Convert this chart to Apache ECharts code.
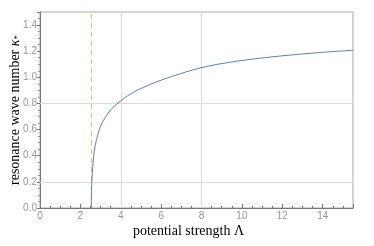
<!DOCTYPE html>
<html>
<head>
<meta charset="utf-8">
<script src="https://cdn.jsdelivr.net/npm/echarts@6/dist/echarts.min.js"></script>
<style>html,body{margin:0;padding:0;background:#fff}#c{width:374px;height:246px}</style>
</head>
<body>
<div id="c"></div>
<script>
var lambdaVals = [2.54, 2.542, 2.545, 2.55, 2.56, 2.58, 2.6, 2.62, 2.66, 2.7, 2.75, 2.8, 2.87, 2.95, 3.03, 3.1, 3.2, 3.3, 3.42, 3.55, 3.67, 3.8, 4.0, 4.17, 4.35, 4.55, 4.8, 5.05, 5.3, 5.6, 5.94, 6.5, 7.2, 7.92, 8.8, 9.8, 10.8, 11.88, 13.0, 14.2, 15.5];
var kappaVals  = [0.0, 0.06, 0.1, 0.135, 0.17, 0.24, 0.29, 0.33, 0.4, 0.45, 0.49, 0.525, 0.565, 0.605, 0.635, 0.66, 0.685, 0.71, 0.735, 0.76, 0.778, 0.795, 0.82, 0.84, 0.86, 0.878, 0.9, 0.918, 0.935, 0.955, 0.975, 1.005, 1.04, 1.072, 1.10, 1.125, 1.145, 1.163, 1.179, 1.194, 1.207];
var thresholdLambda = 2.54;
var xGridVals = [4, 8];
var yGridVals = [0.2, 0.8];
var xRange = [0, 15.5];
var yRange = [0, 1.5];

var pts = lambdaVals.map(function (l, i) { return [l, kappaVals[i]]; });
var gridLines = xGridVals.map(function (v) { return { xAxis: v }; })
  .concat(yGridVals.map(function (v) { return { yAxis: v }; }));

var chart = echarts.init(document.getElementById('c'));
chart.setOption({
  animation: false,
  grid: { left: 40, top: 12, right: 21, bottom: 38, show: true, borderColor: '#a8a8a8', borderWidth: 1,
    outerBoundsMode: 'none', containLabel: false },
  xAxis: {
    type: 'value', min: xRange[0], max: xRange[1], interval: 2,
    name: 'potential strength Λ', nameLocation: 'middle', nameGap: 16, nameMoveOverlap: false,
    nameTextStyle: { fontFamily: 'Liberation Serif', fontSize: 14, color: '#000', padding: [0, 16, 0, 0] },
    axisLine: { show: true, lineStyle: { color: '#777', width: 1 } },
    axisTick: { show: true, inside: true, length: 4, lineStyle: { color: '#777' } },
    minorTick: { show: true, splitNumber: 4, length: 2, lineStyle: { color: '#777' } },
    splitLine: { show: false },
    axisLabel: { color: '#999', fontSize: 10, fontFamily: 'Liberation Sans', margin: 3,
      formatter: function (v) { return v % 2 === 0 ? String(v) : ''; } }
  },
  yAxis: {
    type: 'value', min: yRange[0], max: yRange[1], interval: 0.2,
    name: 'resonance wave number {i|κ}{s|*}', nameLocation: 'middle', nameGap: 18, nameRotate: 90,
    nameMoveOverlap: false,
    nameTextStyle: { fontFamily: 'Liberation Serif', fontSize: 14, lineHeight: 14, color: '#000',
      rich: { i: { fontFamily: 'Liberation Serif', fontStyle: 'italic', fontSize: 14, lineHeight: 14 },
              s: { fontFamily: 'Liberation Serif', fontSize: 9, lineHeight: 14, verticalAlign: 'bottom' } } },
    axisLine: { show: true, lineStyle: { color: '#777', width: 1 } },
    axisTick: { show: true, inside: false, length: 3, lineStyle: { color: '#777' } },
    minorTick: { show: true, splitNumber: 4, length: 2, lineStyle: { color: '#999' } },
    splitLine: { show: false },
    axisLabel: { color: '#999', fontSize: 10, fontFamily: 'Liberation Sans', margin: 3,
      formatter: function (v) { return Math.abs(v * 10 - Math.round(v * 10)) < 1e-6 && Math.round(v * 10) % 2 === 0 && v < 1.45 ? v.toFixed(1) : ''; } }
  },
  series: [
    {
      type: 'line', data: [], silent: true,
      markLine: { silent: true, symbol: 'none', label: { show: false },
        lineStyle: { color: '#dcdcdc', type: 'solid', width: 1 }, data: gridLines }
    },
    {
      type: 'line', data: [], silent: true,
      markLine: { silent: true, symbol: 'none', label: { show: false },
        lineStyle: { color: '#ecbc70', type: [5, 4], width: 1 }, data: [{ xAxis: thresholdLambda }] }
    },
    {
      type: 'line', data: pts, showSymbol: false, smooth: false,
      lineStyle: { color: '#5e81b5', width: 1 }, z: 5
    }
  ]
});
</script>
</body>
</html>
